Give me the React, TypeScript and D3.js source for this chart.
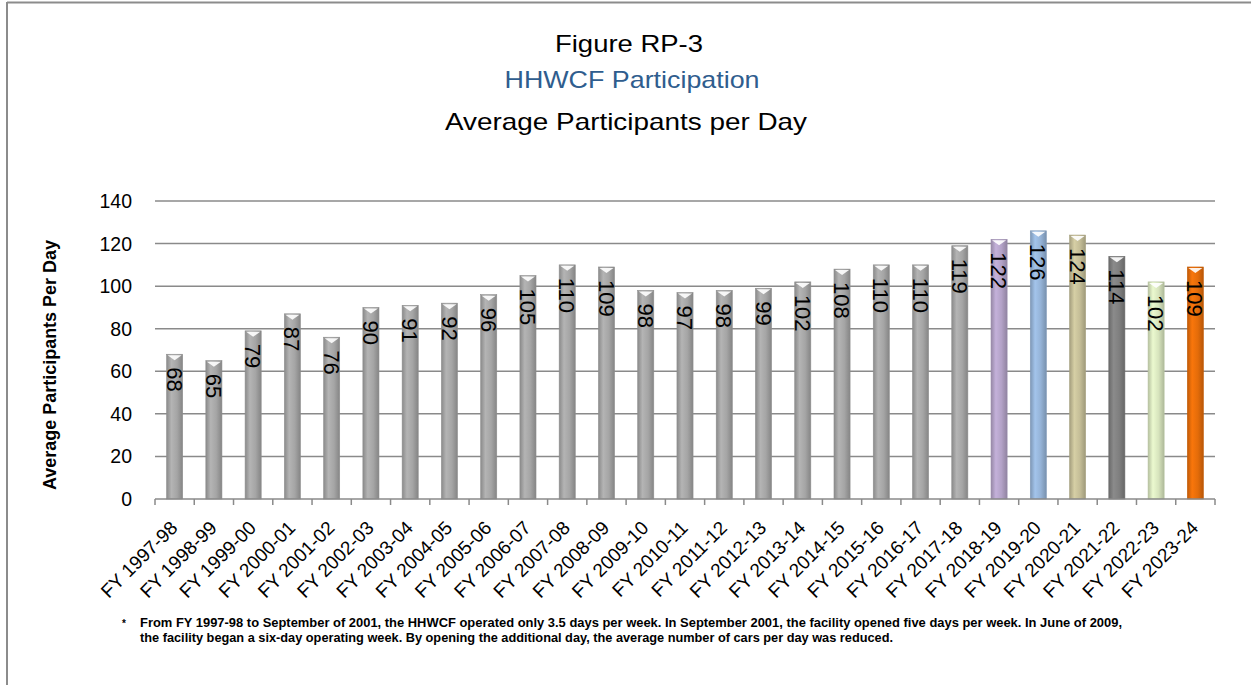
import React from "react";
import * as d3 from "d3";

const categories = [
  "FY 1997-98", "FY 1998-99", "FY 1999-00", "FY 2000-01", "FY 2001-02", "FY 2002-03",
  "FY 2003-04", "FY 2004-05", "FY 2005-06", "FY 2006-07", "FY 2007-08", "FY 2008-09",
  "FY 2009-10", "FY 2010-11", "FY 2011-12", "FY 2012-13", "FY 2013-14", "FY 2014-15",
  "FY 2015-16", "FY 2016-17", "FY 2017-18", "FY 2018-19", "FY 2019-20", "FY 2020-21",
  "FY 2021-22", "FY 2022-23", "FY 2023-24",
];
const participants = [
  68, 65, 79, 87, 76, 90, 91, 92, 96, 105, 110, 109, 98, 97, 98, 99, 102, 108, 110, 110,
  119, 122, 126, 124, 114, 102, 109,
];
const yTicks = [0, 20, 40, 60, 80, 100, 120, 140];
const barColors = [
  "#A5A5A5", "#A5A5A5", "#A5A5A5", "#A5A5A5", "#A5A5A5", "#A5A5A5", "#A5A5A5", "#A5A5A5",
  "#A5A5A5", "#A5A5A5", "#A5A5A5", "#A5A5A5", "#A5A5A5", "#A5A5A5", "#A5A5A5", "#A5A5A5",
  "#A5A5A5", "#A5A5A5", "#A5A5A5", "#A5A5A5", "#A5A5A5", "#B3A2C7", "#95B3D7", "#C4BD97",
  "#7F7F7F", "#D7E4BD", "#E46C0A",
];
const titleLines = ["Figure RP-3", "HHWCF Participation", "Average Participants per Day"];
const yAxisTitle = "Average Participants Per Day";
const footnoteLines = [
  "From FY 1997-98 to September of 2001, the HHWCF operated only 3.5 days per week. In September 2001, the facility opened five days per week. In June of 2009,",
  "the facility began a six-day operating week. By opening the additional day, the average number of cars per day was reduced.",
];

const W = 1251;
const H = 685;
const FONT = "'Liberation Sans', Arial, sans-serif";

export default function App() {
  const x = d3.scaleBand<string>().domain(categories).range([155, 1215]).paddingInner(0.59).paddingOuter(0.295);
  const band = d3.scaleBand<string>().domain(categories).range([155, 1215]).padding(0);
  const y = d3.scaleLinear().domain([0, 140]).range([499, 201]);
  const bw = x.bandwidth();

  return (
    <svg width={W} height={H} style={{ position: "absolute", left: 0, top: 0, background: "#fff" }} fontFamily={FONT}>
      <defs>
        {barColors.map((c, i) => {
          const base = d3.color(c)!;
          return (
            <linearGradient key={i} id={`g${i}`} x1="0" x2="1" y1="0" y2="0">
              <stop offset="0" stopColor={base.darker(0.5).toString()} />
              <stop offset="0.3" stopColor={base.brighter(0.25).toString()} />
              <stop offset="0.65" stopColor={c} />
              <stop offset="1" stopColor={base.darker(0.6).toString()} />
            </linearGradient>
          );
        })}
      </defs>
      {/* frame */}
      <line x1={7} x2={7} y1={2} y2={H} stroke="#8c8c8c" strokeWidth={2} />
      <line x1={7} x2={W} y1={2.5} y2={2.5} stroke="#8c8c8c" strokeWidth={2} />

      {/* titles */}
      <text x={629} y={52} textAnchor="middle" fontSize={24} textLength={148} lengthAdjust="spacingAndGlyphs" fill="#000">{titleLines[0]}</text>
      <text x={632} y={88} textAnchor="middle" fontSize={24} textLength={255} lengthAdjust="spacingAndGlyphs" fill="#2F5D8E">{titleLines[1]}</text>
      <text x={626} y={130} textAnchor="middle" fontSize={24} textLength={362} lengthAdjust="spacingAndGlyphs" fill="#000">{titleLines[2]}</text>

      {/* gridlines */}
      {yTicks.filter((t) => t > 0).map((t) => (
        <line key={t} x1={155} x2={1215} y1={y(t)} y2={y(t)} stroke="#8a8a8a" strokeWidth={1.5} />
      ))}
      {/* y tick labels */}
      {yTicks.map((t) => (
        <text key={t} x={132} y={y(t)} dy="0.36em" textAnchor="end" fontSize={19.5} fill="#000">{t}</text>
      ))}
      {/* y axis title */}
      <text transform={`translate(56,365) rotate(-90)`} textAnchor="middle" fontSize={18} fontWeight="bold" textLength={250} lengthAdjust="spacingAndGlyphs" fill="#000">{yAxisTitle}</text>

      {/* bars */}
      {categories.map((c, i) => {
        const x0 = x(c)!;
        const top = y(participants[i]);
        const cx = x0 + bw / 2;
        return (
          <g key={c}>
            <rect x={x0} y={top} width={bw} height={y(0) - top} fill={`url(#g${i})`} stroke={d3.color(barColors[i])!.darker(0.4).toString()} strokeWidth={0.6} />
            <path d={`M${x0 + 1},${top + 1}L${x0 + bw - 1},${top + 1}L${cx},${top + 6}Z`} fill="#fff" opacity={0.9} />
            <text transform={`translate(${cx},${top + 13}) rotate(90)`} dy="0.36em" fontSize={22} fill="#000">{participants[i]}</text>
          </g>
        );
      })}

      {/* x axis */}
      <line x1={155} x2={1215} y1={y(0)} y2={y(0)} stroke="#8a8a8a" strokeWidth={1.5} />
      {categories.map((c) => (
        <line key={c} x1={band(c)!} x2={band(c)!} y1={y(0)} y2={y(0) + 6} stroke="#8a8a8a" strokeWidth={1.5} />
      ))}
      <line x1={1215} x2={1215} y1={y(0)} y2={y(0) + 6} stroke="#8a8a8a" strokeWidth={1.5} />
      {categories.map((c) => (
        <text key={c} transform={`translate(${band(c)! + band.bandwidth() / 2 + 4},529) rotate(-45)`} textAnchor="end" fontSize={19} fill="#000">{c}</text>
      ))}

      {/* footnote */}
      <text x={122} y={627} fontSize={10} fontWeight="bold" fill="#000">*</text>
      <text x={140} y={627} fontSize={12} fontWeight="bold" textLength={982} lengthAdjust="spacingAndGlyphs" fill="#000">{footnoteLines[0]}</text>
      <text x={140} y={642} fontSize={12} fontWeight="bold" textLength={753} lengthAdjust="spacingAndGlyphs" fill="#000">{footnoteLines[1]}</text>
    </svg>
  );
}
